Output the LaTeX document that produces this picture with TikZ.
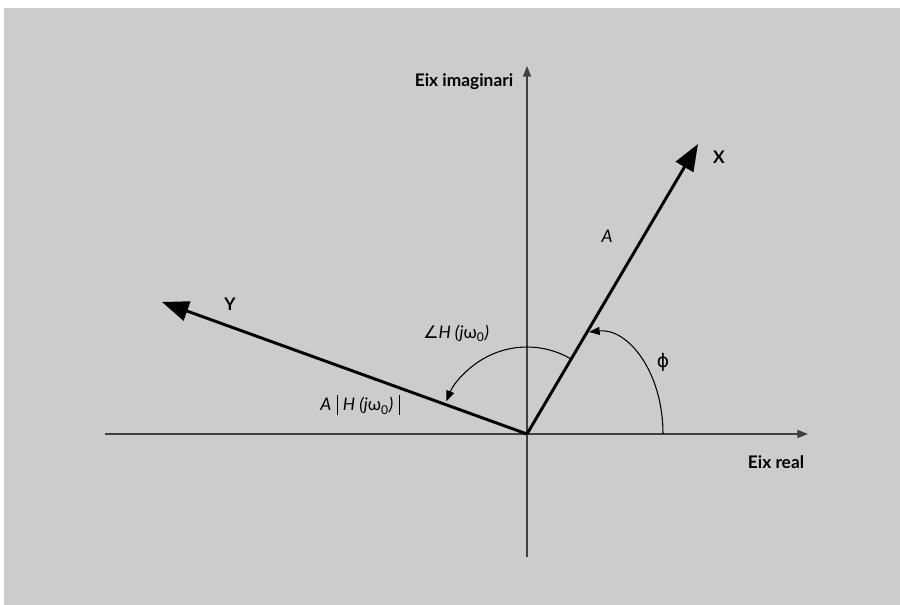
\documentclass[tikz,border=0pt]{standalone}
\usepackage{fontspec}
\setmainfont{Lato}
\newfontfamily\symfont{DejaVu Sans}
\usepackage{tikz}
\usetikzlibrary{arrows.meta}

\newcommand{\magbar}{\hspace{4pt}\raisebox{-3pt}{\rule{0.7pt}{15pt}}\hspace{4pt}}

\begin{document}
\begin{tikzpicture}[
  x=0.75pt, y=-0.75pt,
  axis/.style={draw=black!75, line width=1.1pt, -{Triangle[length=8pt, width=6pt]}},
  vec/.style={line width=2.2pt, -{Triangle[length=20pt, width=15pt]}},
  angarr/.style={line width=0.8pt, -{Triangle[length=8pt, width=6pt]}},
  lbl/.style={font=\fontsize{13}{15}\selectfont\bfseries},
  txt/.style={font=\fontsize{13}{15}\selectfont\itshape}
]
\useasboundingbox (0,0) rectangle (900,605);
\fill[black!20] (4,8) rectangle (900,605);

% axes
\coordinate (O) at (527,434);
\coordinate (re0) at (105,434);
\coordinate (re1) at (808,434);
\coordinate (im0) at (527,557);
\coordinate (im1) at (527,66);
\draw[axis] (re0) -- (re1);
\draw[axis] (im0) -- (im1);
\node[lbl] (relbl) at (776,462) {Eix real};
\node[lbl] (imlbl) at (464,82) {Eix imaginari};

% phasors
\coordinate (X) at (698,144);
\coordinate (Y) at (162,302);
\draw[vec] (O) -- (X);
\draw[vec] (O) -- (Y);
\node[lbl] (xlbl) at (719,157) {X};
\node[lbl] (ylbl) at (230,304) {Y};
\node[txt] (albl) at (607,236) {A};
\node[txt] (maglbl) at (360,405) {A\magbar H (j\textup{ω}\textsubscript{\textup{0}})\magbar};

% angles
\draw[angarr] (663,434) .. controls (663,372) and (628,328) .. (589,332);
\node[font=\fontsize{14}{16}\selectfont\symfont] (phlbl) at (663,362) {ϕ};
\draw[angarr] (O) ++(-60:87) arc[start angle=-60, end angle=-158, radius=87];
\node[txt] (anglbl) at (456,333) {{\upshape\symfont ∠}H (j\textup{ω}\textsubscript{\textup{0}})};
\end{tikzpicture}
\end{document}
